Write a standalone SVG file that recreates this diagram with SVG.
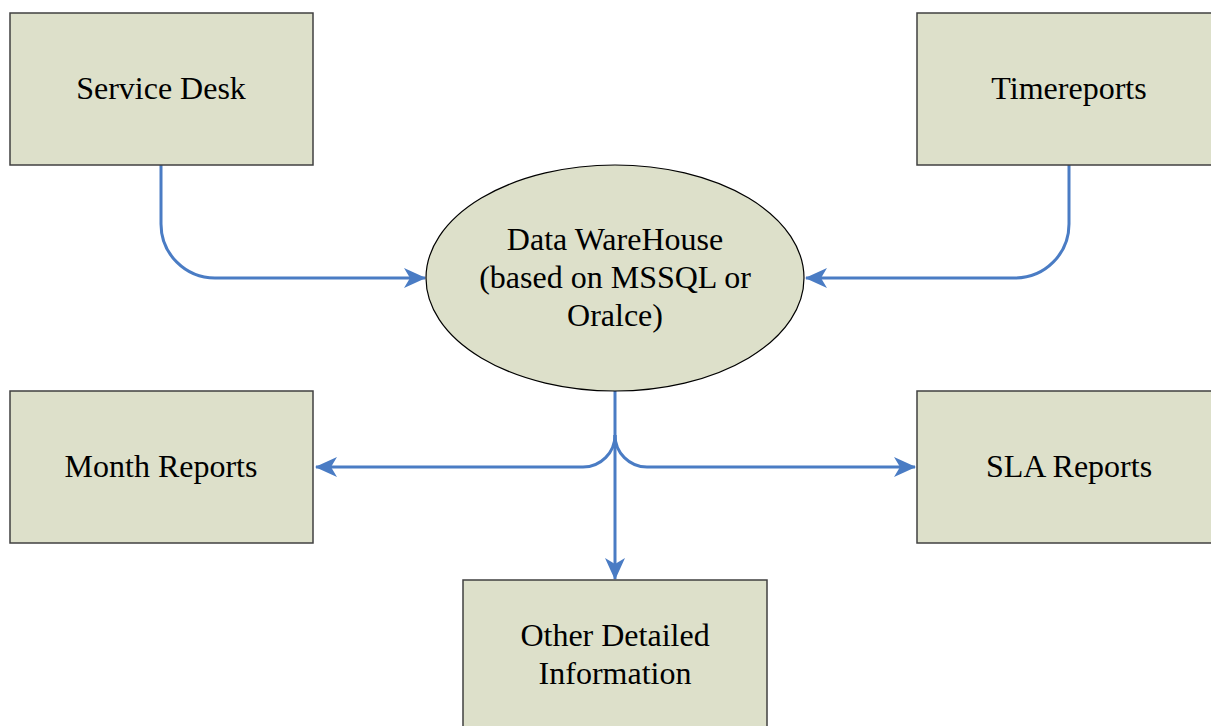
<svg xmlns="http://www.w3.org/2000/svg" width="1211" height="726" viewBox="0 0 1211 726">
<style>
.box{fill:#DDE0CA;stroke:#404040;stroke-width:1.5}
.ell{fill:#DDE0CA;stroke:#000;stroke-width:1.2}
.t{font-family:"Liberation Serif","Times New Roman",serif;font-size:32px;fill:#000;text-anchor:middle}
.c{fill:none;stroke:#4A7CC4;stroke-width:3}
</style>
<defs>
<marker id="ah" viewBox="0 0 22 20" refX="21" refY="10" markerWidth="22" markerHeight="20" markerUnits="userSpaceOnUse" orient="auto">
<path d="M0,0 L22,10 L0,20 L6,10 Z" fill="#4A7CC4"/>
</marker>
</defs>
<rect width="1211" height="726" fill="#fff"/>
<g id="connectors">
<path class="c" d="M161,165 V224 A54,54 0 0 0 215,278 H425" marker-end="url(#ah)"/>
<path class="c" d="M1069,165 V224 A54,54 0 0 1 1015,278 H806" marker-end="url(#ah)"/>
<path class="c" d="M615,391 V579" marker-end="url(#ah)"/>
<path class="c" d="M615,435 A32,32 0 0 1 583,467 H316" marker-end="url(#ah)"/>
<path class="c" d="M615,435 A32,32 0 0 0 647,467 H915" marker-end="url(#ah)"/>
</g>
<g id="service-desk">
<rect class="box" x="10" y="13" width="303" height="152"/>
<text class="t" x="161" y="99">Service Desk</text>
</g>
<g id="timereports">
<rect class="box" x="917" y="13" width="304" height="152"/>
<text class="t" x="1069" y="99">Timereports</text>
</g>
<g id="data-warehouse">
<ellipse class="ell" cx="615" cy="278" rx="189" ry="113"/>
<text class="t" x="615" y="250">Data WareHouse</text>
<text class="t" x="615" y="288">(based on MSSQL or</text>
<text class="t" x="615" y="326">Oralce)</text>
</g>
<g id="month-reports">
<rect class="box" x="10" y="391" width="303" height="152"/>
<text class="t" x="161" y="477">Month Reports</text>
</g>
<g id="sla-reports">
<rect class="box" x="917" y="391" width="304" height="152"/>
<text class="t" x="1069" y="477">SLA Reports</text>
</g>
<g id="other-detailed">
<rect class="box" x="463" y="580" width="304" height="160"/>
<text class="t" x="615" y="646">Other Detailed</text>
<text class="t" x="615" y="684">Information</text>
</g>
</svg>
